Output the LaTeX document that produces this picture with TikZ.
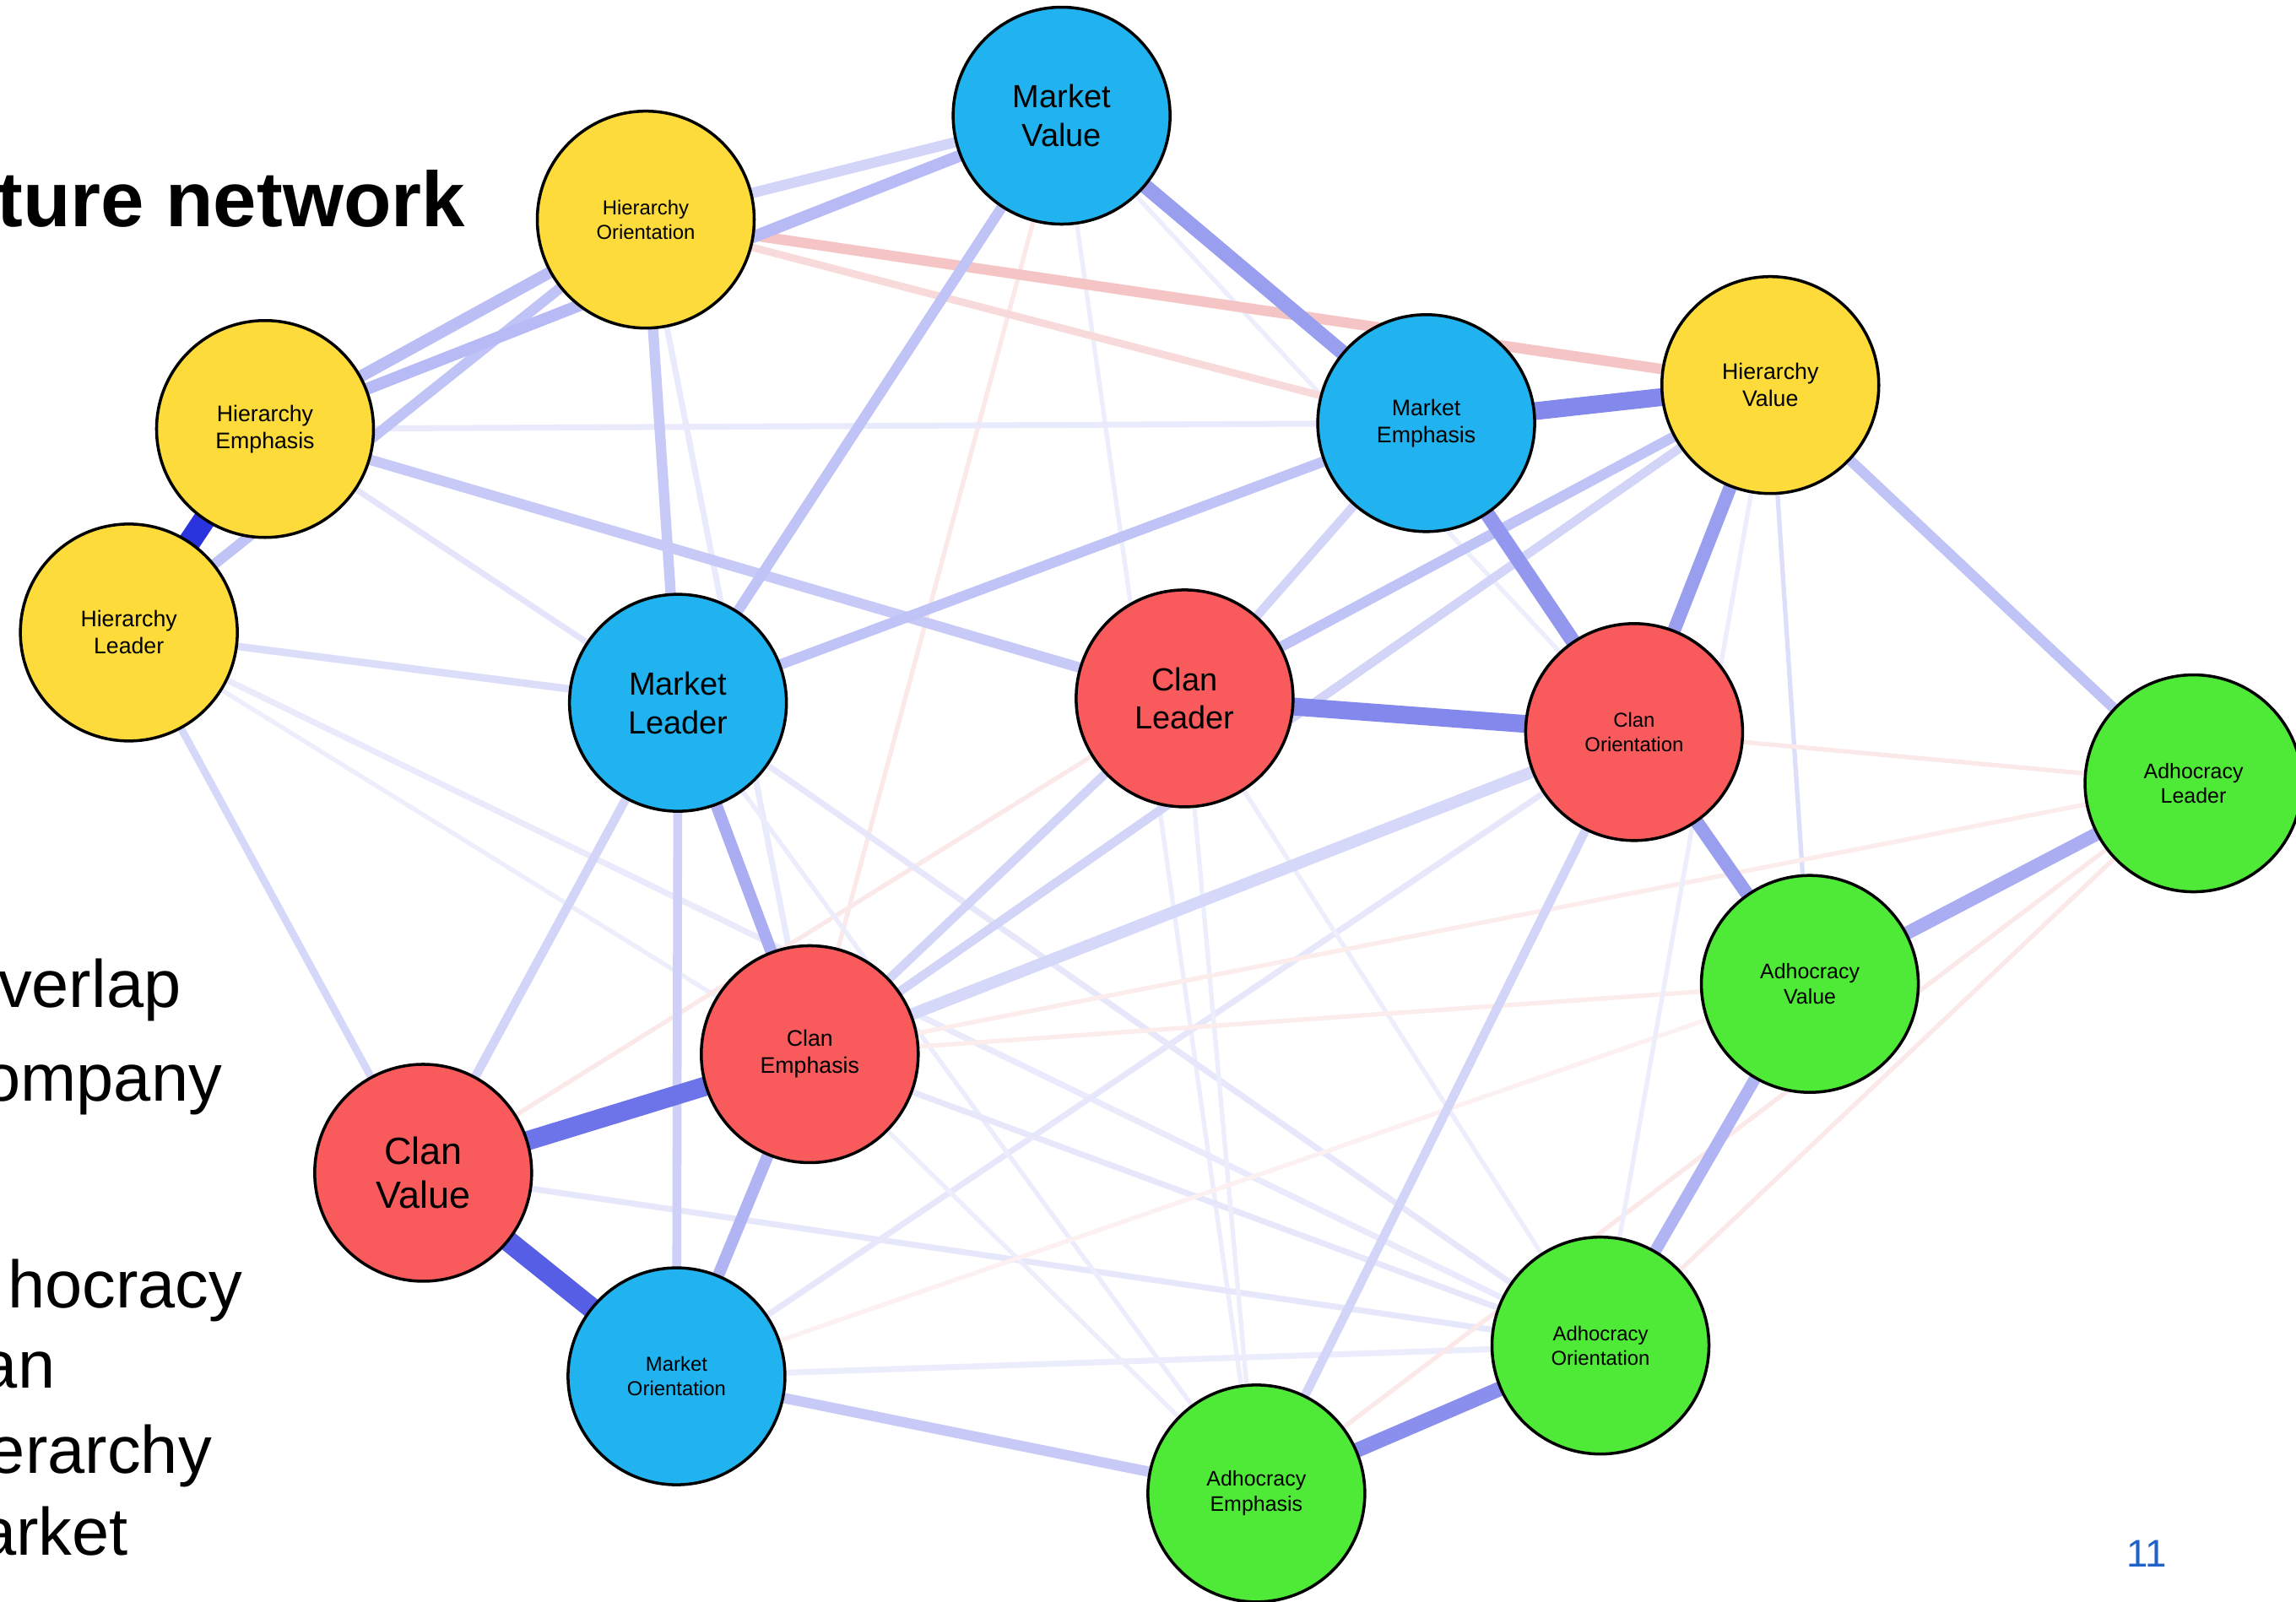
\documentclass[tikz,border=0pt]{standalone}
\usepackage{fontspec}
\setmainfont{Liberation Sans}
\usetikzlibrary{backgrounds}

\definecolor{hierc}{RGB}{252,219,58}
\definecolor{markc}{RGB}{33,179,239}
\definecolor{clanc}{RGB}{249,90,91}
\definecolor{adhoc}{RGB}{79,233,55}
\definecolor{pblue}{RGB}{30,40,220}
\definecolor{nred}{RGB}{225,70,70}
\definecolor{pagenr}{RGB}{31,98,200}

\begin{document}
\begin{tikzpicture}[x=0.17347mm,y=-0.17347mm,
  cult/.style={circle,draw=black,line width=1pt,minimum size=25.7mm,inner sep=0pt,align=center},
  lbig/.style={font=\fontsize{12.8}{15}\selectfont},
  lmid/.style={font=\fontsize{10.8}{13}\selectfont},
  lsma/.style={font=\fontsize{7.6}{9.1}\selectfont},
  ladh/.style={font=\fontsize{7.1}{8.5}\selectfont},
  ltin/.style={font=\fontsize{6.8}{8.2}\selectfont},
  slide/.style={anchor=base east, inner sep=0pt, font=\fontsize{22.6}{27}\selectfont}]

 \useasboundingbox (0,0) rectangle (1568,1094);

 % slide text, cut at the left edge
 \node[anchor=base east, inner sep=0pt, font=\fontsize{26.3}{31}\bfseries] (title) at (318,155) {ture network};
 \node[slide] (l1) at (124,688) {verlap};
 \node[slide] (l2) at (152,752) {ompany};
 \node[slide] (l3) at (166,893) {hocracy};
 \node[slide] (l4) at (38,948) {an};
 \node[slide] (l5) at (145,1006) {erarchy};
 \node[slide] (l6) at (88,1062) {arket};
 \node[font=\fontsize{13}{15}\selectfont, text=pagenr] (pnr) at (1466,1061) {11};

 % culture nodes
 \node[cult, fill=markc, lmid] (MV) at (725,79) {Market\\Value};
 \node[cult, fill=hierc, ltin] (HO) at (441,150) {Hierarchy\\Orientation};
 \node[cult, fill=hierc, lsma] (HE) at (181,293) {Hierarchy\\Emphasis};
 \node[cult, fill=hierc, lsma] (HL) at (88,432) {Hierarchy\\Leader};
 \node[cult, fill=markc, lsma] (ME) at (974,289) {Market\\Emphasis};
 \node[cult, fill=hierc, lsma] (HV) at (1209,263) {Hierarchy\\Value};
 \node[cult, fill=markc, lmid] (ML) at (463,480) {Market\\Leader};
 \node[cult, fill=clanc, lmid] (CL) at (809,477) {Clan\\Leader};
 \node[cult, fill=clanc, ltin] (CO) at (1116,500) {Clan\\Orientation};
 \node[cult, fill=adhoc, ladh] (AL) at (1498,535) {Adhocracy\\Leader};
 \node[cult, fill=adhoc, ladh] (AV) at (1236,672) {Adhocracy\\Value};
 \node[cult, fill=clanc, lsma] (CE) at (553,720) {Clan\\Emphasis};
 \node[cult, fill=clanc, lbig] (CV) at (289,801) {Clan\\Value};
 \node[cult, fill=markc, ltin] (MO) at (462,940) {Market\\Orientation};
 \node[cult, fill=adhoc, ltin] (AO) at (1093,919) {Adhocracy\\Orientation};
 \node[cult, fill=adhoc, ladh] (AE) at (858,1020) {Adhocracy\\Emphasis};

 \begin{scope}[on background layer]
 \fill[white] (0,0) rectangle (1568,1094);
 % weak edges
 \draw[pblue!8, line width=1.5pt] (MV.center) -- (AE.center);
 \draw[pblue!8, line width=1.5pt] (MV.center) -- (CO.center);
 \draw[nred!12, line width=1.5pt] (MV.center) -- (CE.center);
 \draw[pblue!10, line width=2pt] (HE.center) -- (ME.center);
 \draw[nred!20, line width=2.5pt] (HO.center) -- (ME.center);
 \draw[pblue!10, line width=2pt] (HO.center) -- (CE.center);
 \draw[pblue!10, line width=2pt] (HL.center) -- (AO.center);
 \draw[pblue!8, line width=1.5pt] (HL.center) -- (CE.center);
 \draw[pblue!12, line width=2pt] (HE.center) -- (ML.center);
 \draw[nred!12, line width=1.5pt] (CV.center) -- (CL.center);
 \draw[pblue!11, line width=2pt] (CV.center) -- (AO.center);
 \draw[pblue!9, line width=2pt] (MO.center) -- (AO.center);
 \draw[pblue!11, line width=2pt] (MO.center) -- (CO.center);
 \draw[pblue!11, line width=2pt] (ML.center) -- (AO.center);
 \draw[pblue!9, line width=1.5pt] (ML.center) -- (AE.center);
 \draw[pblue!11, line width=2pt] (CE.center) -- (AO.center);
 \draw[pblue!8, line width=1.5pt] (CE.center) -- (AE.center);
 \draw[pblue!8, line width=1.5pt] (CL.center) -- (AE.center);
 \draw[pblue!8, line width=1.5pt] (CL.center) -- (AO.center);
 \draw[pblue!15, line width=1.5pt] (HV.center) -- (AV.center);
 \draw[nred!12, line width=1.5pt] (AL.center) -- (CO.center);
 \draw[nred!10, line width=1.5pt] (AL.center) -- (CE.center);
 \draw[nred!12, line width=1.5pt] (AL.center) -- (AE.center);
 \draw[nred!12, line width=1.5pt] (AL.center) -- (AO.center);
 \draw[nred!10, line width=1.5pt] (AV.center) -- (CE.center);
 \draw[nred!8, line width=1.5pt] (AV.center) -- (MO.center);
 \draw[pblue!8, line width=1.5pt] (HV.center) -- (AO.center);
 \draw[pblue!8, line width=1.5pt] (ME.center) -- (AV.center);
 % middle edges
 \draw[pblue!18, line width=2.5pt] (HL.center) -- (CV.center);
 \draw[pblue!16, line width=2.5pt] (HL.center) -- (ML.center);
 \draw[pblue!28, line width=3.5pt] (HL.center) -- (HO.center);
 \draw[pblue!20, line width=3pt] (CV.center) -- (ML.center);
 \draw[pblue!22, line width=3pt] (ML.center) -- (MO.center);
 \draw[pblue!20, line width=3pt] (CE.center) -- (CL.center);
 \draw[pblue!18, line width=4pt] (CE.center) -- (CO.center);
 \draw[pblue!20, line width=3pt] (HV.center) -- (CE.center);
 \draw[pblue!20, line width=3pt] (ME.center) -- (CL.center);
 \draw[pblue!20, line width=3pt] (CO.center) -- (AE.center);
 \draw[pblue!25, line width=3.5pt] (MO.center) -- (AE.center);
 \draw[pblue!20, line width=3.5pt] (HO.center) -- (MV.center);
 \draw[nred!32, line width=3.5pt] (HO.center) -- (HV.center);
 \draw[pblue!25, line width=3.5pt] (HE.center) -- (CL.center);
 \draw[pblue!25, line width=3.5pt] (HO.center) -- (ML.center);
 \draw[pblue!28, line width=3.5pt] (MV.center) -- (ML.center);
 \draw[pblue!28, line width=3.5pt] (ML.center) -- (ME.center);
 \draw[pblue!28, line width=3.5pt] (CL.center) -- (HV.center);
 \draw[pblue!28, line width=3.5pt] (HV.center) -- (AL.center);
 \draw[pblue!30, line width=4pt] (HE.center) -- (HO.center);
 \draw[pblue!32, line width=4pt] (HE.center) -- (MV.center);
 % strong edges
 \draw[pblue!35, line width=4pt] (AV.center) -- (AO.center);
 \draw[pblue!38, line width=4pt] (ML.center) -- (CE.center);
 \draw[pblue!35, line width=4pt] (CE.center) -- (MO.center);
 \draw[pblue!38, line width=4.5pt] (AV.center) -- (AL.center);
 \draw[pblue!45, line width=4.5pt] (HV.center) -- (CO.center);
 \draw[pblue!45, line width=4.5pt] (CO.center) -- (AV.center);
 \draw[pblue!45, line width=5pt] (MV.center) -- (ME.center);
 \draw[pblue!48, line width=5pt] (ME.center) -- (CO.center);
 \draw[pblue!52, line width=5pt] (AO.center) -- (AE.center);
 \draw[pblue!55, line width=6pt] (ME.center) -- (HV.center);
 \draw[pblue!55, line width=6pt] (CL.center) -- (CO.center);
 \draw[pblue!65, line width=6.5pt] (CV.center) -- (CE.center);
 \draw[pblue!75, line width=7pt] (CV.center) -- (MO.center);
 \draw[pblue!95, line width=7.5pt] (HE.center) -- (HL.center);
 \end{scope}

\end{tikzpicture}
\end{document}
